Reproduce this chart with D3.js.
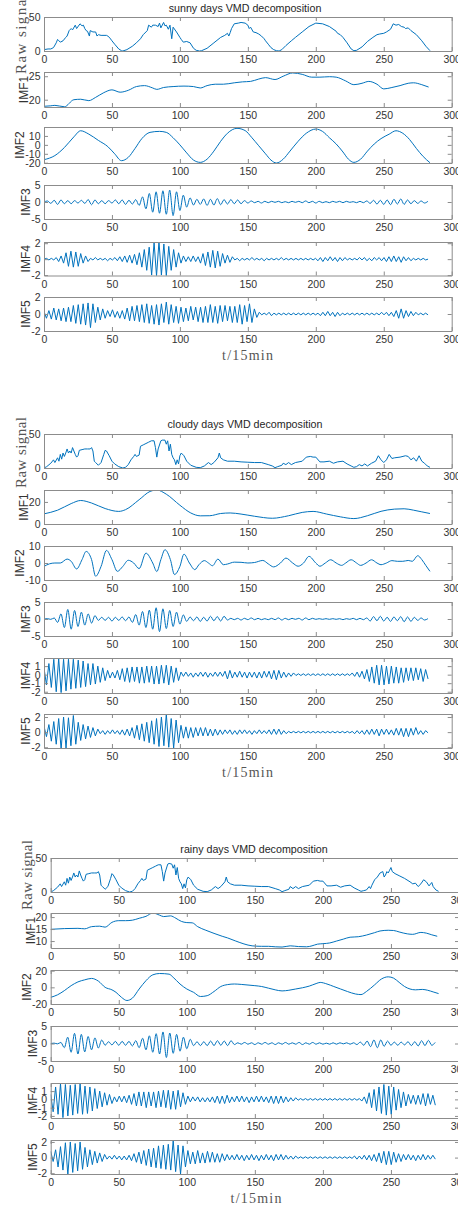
<!DOCTYPE html>
<html>
<head>
<meta charset="utf-8">
<script src="https://cdn.jsdelivr.net/npm/d3@7/dist/d3.min.js"></script>
<style>
body { margin: 0; background: #fff; }
svg { display: block; }
</style>
</head>
<body>
<svg id="chart" width="458" height="1211"></svg>
<script>
// ---- data ----
var xTicks = [0, 50, 100, 150, 200, 250, 300];
var panelLabels = ['Raw signal', 'IMF1', 'IMF2', 'IMF3', 'IMF4', 'IMF5'];
var xLabel = 't/15min';
var titles = ['sunny days VMD decomposition', 'cloudy days VMD decomposition', 'rainy days VMD decomposition'];

// sampling step of the oscillating modes (values listed peak / trough)
var imf3Step = 2.5;
var imf45Step = 1.8;

// sunny
var sunnyRaw = [[0,2],[3,3],[5,3],[7,5],[9,12],[10,17],[11,15],[12,13],[14,15],[16,20],[17,22],[18.5,30],[20,33],[21,31],[23,38],[24,33],[26.5,40],[28,37],[29,38],[30,33],[31,30],[32,29],[33.4,22],[34,30],[36,28],[38,28],[39,22],[40,24],[42,23],[46,23],[47,22],[48.5,19],[50,15],[52,10],[55,3],[57,0.5],[58,0],[61,2],[65,7],[68,12],[71,18],[73,24],[75,28],[76,30],[77,38],[79,35],[80,38],[82,38],[84,36],[85,41],[86,34],[88,42],[89,37],[90,38],[91.5,32],[92.7,38],[94,18],[95,35],[97.5,28],[100,20],[101,17],[102.5,13],[105,14],[107.5,12],[110,4],[112,1],[114.5,0],[116,0.5],[120,4],[125,12],[130,20],[133,23],[135,26],[136,22],[137,27],[138,33],[140,40],[143,41],[145,42],[148,41],[150,38],[151,33],[152,35],[154,28],[156,27],[158,25],[160,22],[162,18],[163,15],[165,10],[167,5],[169,2],[171,0.5],[173,0],[175,2],[178,8],[182,15],[185,20],[190,28],[195,36],[200,41],[205,40],[210,36],[215,29],[216,26],[218,24],[220,20],[223,12],[226,3],[228,0.5],[230,1],[234,6],[238,14],[242,20],[245,24],[247,25],[250,26],[252,28],[255,32],[257,40],[259,38],[261,39],[263,36],[265,35],[266,33],[268,34],[270,30],[274,24],[278,15],[281,7],[284,0.5]];
var sunnyImf1 = [[0,18.6],[5,18.7],[8,18.8],[15,18.5],[22,20],[27,20.1],[33,19.8],[38,20.5],[44,21.5],[50,22.1],[56,21.6],[62,22],[68,22.8],[74,23],[80,22.5],[83,22.2],[88,22.6],[95,22.8],[103,22.9],[110,22.8],[115,22.5],[120,23],[126,23.3],[132,23.3],[140,23.6],[146,23.8],[152,23.9],[158,24.4],[163,24.7],[170,24.3],[176,25],[183,25.7],[190,25.4],[197,24.8],[203,24.8],[210,24.9],[215,24.8],[222,24],[228,23.2],[234,23.5],[239,23.9],[245,23.3],[250,22.3],[256,22.6],[262,23],[268,23.5],[272,23.6],[278,23.2],[283,22.7]];
var sunnyImf2 = [[0,-16.6],[8,-12],[15,-3],[22,9],[27,15.8],[33,12],[40,5],[47,-2],[52,-10],[57,-17.7],[62,-14],[67,-4],[72,7],[78,14],[85,15.1],[90,14],[95,8],[100,0],[105,-9],[110,-17],[115,-19.6],[120,-16],[125,-7],[130,4],[135,13],[142,18.5],[148,16],[153,8],[158,-1],[163,-10],[167,-17],[171,-20.3],[176,-16],[181,-7],[187,4],[193,13],[200,17.7],[205,15],[210,8],[215,1],[220,-8],[224,-16],[228,-19.6],[233,-16],[238,-7],[243,1],[248,7],[254,12],[259,15.8],[264,13],[269,6],[274,-4],[279,-13],[284,-20]];
var sunnyImf3 = [0,0.3,-0.4,0.5,-0.7,0.6,-0.5,0.4,-0.5,0.4,-0.3,0.5,-0.4,0.7,-0.8,0.6,-0.5,0.4,-0.5,0.4,-0.3,0.6,-0.5,0.6,-0.7,0.5,-0.6,0.7,
  -1.0,1.5,-2.0,2.5,-3.0,3.0,-3.3,3.3,-3.6,3.5,-4.0,3.0,-2.5,2.0,-1.5,1.2,
  -0.9,0.8,-0.7,0.9,-1.0,0.8,-0.9,1.0,-0.8,0.7,-0.6,0.7,-0.5,0.6,-0.5,0.4,-0.3,
  0.3,-0.2,0.2,-0.3,0.2,-0.2,0.2,-0.1,0.2,-0.2,0.1,-0.2,0.2,-0.1,0.2,-0.2,0.3,-0.2,0.2,-0.3,0.2,-0.2,0.1,-0.2,0.2,-0.1,0.2,-0.2,0.2,-0.1,0.1,-0.2,0.2,-0.2,
  0.3,-0.4,0.5,-0.6,0.5,-0.7,0.6,-0.8,0.8,-0.6,0.9,-0.7,0.6,-0.5,0.4,-0.4,0.3,-0.3,0.2];
var sunnyImf4 = [0,0.1,-0.1,0.1,-0.1,0.2,-0.3,0.4,-0.5,0.8,-0.9,1.0,-1.0,0.9,-0.9,0.7,-0.5,0.4,-0.3,
  0.1,-0.1,0.2,-0.1,0.1,-0.1,0.1,-0.2,0.1,-0.1,0.2,-0.2,0.3,-0.3,0.4,-0.4,0.5,-0.5,0.6,-0.7,
  0.8,-1.0,1.2,-1.4,1.5,-2.0,2.1,-2.1,2.2,-2.0,1.9,-2.1,1.6,-1.4,1.2,-1.0,0.8,
  -0.5,0.4,-0.3,0.3,-0.3,0.4,-0.3,0.3,-0.5,0.7,-0.8,0.9,-1.0,1.1,-1.1,1.0,-0.9,0.7,-0.5,0.5,-0.4,0.3,
  -0.1,0.1,-0.2,0.1,-0.1,0.1,-0.1,0.2,-0.1,0.1,-0.1,0.1,-0.2,0.1,-0.1,0.1,-0.1,0.1,-0.1,0.2,-0.1,0.1,-0.1,0.1,-0.1,0.1,-0.1,0.1,-0.1,0.1,-0.1,0.1,-0.1,0.1,
  -0.2,0.2,-0.3,0.2,-0.2,0.3,-0.2,0.2,-0.3,0.2,-0.2,0.2,-0.1,0.1,-0.1,0.1,-0.1,0.2,-0.1,0.2,-0.2,0.1,-0.2,0.2,-0.1,0.2,-0.2,
  0.2,-0.3,0.3,-0.3,0.4,-0.3,0.3,-0.4,0.3,-0.2,0.2,-0.2,0.1,-0.1,0.1,-0.1,0.1,-0.1,0];
var sunnyImf5 = [0.3,-0.5,0.4,-0.6,0.7,-0.7,0.6,-0.8,0.7,-0.9,0.8,-0.9,1.0,-1.1,1.1,-1.2,1.2,-1.3,1.3,-1.6,1.2,
  -1.0,0.8,-0.7,0.6,-0.5,0.4,-0.3,0.5,-0.4,0.3,-0.5,0.4,-0.6,
  0.7,-0.8,0.9,-0.8,1.0,-0.9,1.1,-1.0,1.2,-1.1,1.0,-1.2,1.1,-1.3,1.2,-1.0,1.4,-1.2,1.1,-1.0,0.9,-1.1,
  0.8,-0.9,0.7,-0.8,0.9,-0.7,0.8,-0.9,0.8,-1.0,0.9,-1.0,1.1,-1.0,0.9,-1.1,1.0,-0.9,1.0,-0.8,0.9,-1.0,
  0.9,-1.0,1.1,-1.2,1.0,-0.9,1.2,-1.0,0.6,-0.4,
  0.2,-0.1,0.1,-0.1,0.2,-0.2,0.1,-0.1,0.1,-0.1,0.1,-0.1,0.1,-0.1,0.1,-0.1,0.1,-0.1,0.1,-0.1,0.1,-0.1,0.1,-0.1,
  0.1,-0.2,0.2,-0.2,0.3,-0.2,0.2,-0.3,0.2,-0.2,0.1,
  -0.1,0.1,-0.1,0.1,-0.1,0.1,-0.1,0.1,-0.1,0.1,-0.1,0.1,-0.1,0.1,-0.1,0.2,-0.1,0.2,-0.2,0.2,
  -0.3,0.4,-0.5,0.6,-0.5,0.4,-0.3,0.3,-0.2,0.2,-0.1,0.1,-0.1,0.1,-0.1];

// cloudy
var cloudyRaw = [[0,0],[2,2],[5,7],[7,12],[8,8],[10,15],[11,10],[12,20],[13,13],[14,22],[15,17],[16,22],[17,28],[18,22],[19,25],[20,22],[21,30],[22,25],[23,20],[24,16],[25,18],[26,26],[28,27],[30,28],[32,28],[34,28],[35,30],[36,25],[37,10],[38,8],[40,4],[42,8],[44,20],[45,26],[46,25],[48,18],[50,10],[52,6],[55,2],[58,0],[60,1],[62,5],[64,12],[66,17],[67,20],[68,17],[70,19],[71,32],[73,34],[75,36],[77,38],[79,40],[81,40],[82,30],[83,16],[84,28],[86,40],[87,41],[89,41],[90,35],[91,40],[92,25],[93,35],[94,20],[95,15],[96,12],[97,5],[98,12],[99,6],[100,18],[101,22],[103,18],[105,10],[108,4],[112,1],[115,0.5],[118,3],[121,8],[123,5],[125,8],[128,15],[129,22],[130,15],[132,12],[135,10],[140,10],[145,9],[150,8.5],[155,8],[160,8],[165,5],[168,3],[170,0.5],[172,2],[175,4],[176,7],[178,5],[180,8],[182,5],[185,8],[190,10],[193,16],[196,17],[198,16],[200,16],[203,9],[206,9],[210,10],[213,7],[216,9],[220,10],[223,6],[226,3],[228,1],[230,2],[232,5],[234,3],[236,6],[238,3],[241,7],[244,10],[246,18],[248,12],[250,8],[252,12],[254,20],[256,14],[258,15],[262,16],[266,18],[268,17],[270,12],[272,15],[274,10],[276,18],[278,10],[280,7],[282,3],[284,1]];
var cloudyImf1 = [[0,9.2],[10,12.5],[20,18.5],[27,21.3],[35,19],[45,14],[55,11.4],[60,13],[70,22],[78,29.5],[83,30.8],[90,27],[100,17],[108,10],[115,7.4],[122,7.5],[130,9.5],[137,10],[145,9],[155,7],[168,5.2],[180,7.5],[190,10.5],[198,11.4],[208,9],[218,6.5],[228,4.9],[238,7.5],[248,11.5],[258,13.5],[265,13.8],[272,12.5],[278,11],[284,9.5]];
var cloudyImf2 = [[0,-2],[4,-0.5],[8,0],[12,0],[17,2.3],[20,1],[24,-3.5],[28,2],[31,6.8],[35,2],[38,-7.8],[42,-2],[46,7.4],[50,2],[54,-4.9],[58,-2],[62,1.6],[66,0],[70,-3.3],[75,5.8],[80,0],[83,-5],[86,2],[89,7.8],[93,2],[96,-6.8],[100,-2],[103,5.2],[107,0],[111,-3.9],[114,-1],[118,1.4],[121,0],[124,-1.6],[128,2.3],[132,-1],[135,-0.6],[140,0.5],[145,0.4],[150,0],[155,0.3],[161,1.5],[165,-0.5],[169,-2.3],[174,0],[178,2.9],[183,0],[187,-1.9],[191,0],[195,3.9],[200,0],[203,-1.9],[207,0],[211,1.9],[215,0],[219,-1.4],[222,0],[226,1.9],[230,0],[233,-1.4],[237,0],[241,1.9],[245,0],[248,-1],[252,0],[256,1.4],[260,1],[264,1],[268,1.5],[271,1],[275,4.3],[278,2],[281,-1.5],[284,-4.9]];
var cloudyImf3 = [0,0.1,-0.1,0.3,
  -1.0,1.5,-2.5,2.8,-3.0,2.5,-2.2,2.0,-1.8,1.5,-1.2,1.0,
  -0.4,0.5,-0.4,0.5,-0.6,0.5,-0.4,0.6,-0.5,0.6,
  -1.0,1.3,-1.8,2.2,-2.5,2.6,-3.0,3.3,-3.7,3.0,-2.8,2.5,-2.2,2.0,-1.5,1.2,
  -0.7,0.6,-0.5,0.6,-0.7,0.5,-0.6,0.8,-0.5,0.7,-0.6,0.8,-0.3,
  0.2,-0.2,0.2,-0.3,0.2,-0.2,0.3,-0.2,0.2,-0.2,0.1,-0.2,0.2,-0.2,0.3,-0.3,0.2,-0.2,0.2,-0.1,0.2,-0.3,0.3,-0.2,0.2,-0.1,0.1,-0.1,0.1,-0.1,0.1,-0.1,0.1,-0.2,0.1,-0.1,0.2,-0.2,0.2,-0.2,0.3,
  -0.6,0.7,-0.5,0.8,-0.6,0.5,-0.7,0.6,-0.5,0.7,-0.8,0.6,-0.7,0.5,
  -0.4,0.3,-0.3,0.1];
var cloudyImf4 = [0.8,-1.2,1.3,-1.5,1.8,-2.0,1.9,-2.1,1.8,
  -1.9,1.8,-1.7,1.8,-1.6,1.7,-1.5,1.6,-1.4,1.3,-1.2,1.3,-1.1,1.0,-0.9,0.8,-0.7,
  0.5,-0.4,0.3,-0.4,0.5,
  -0.6,0.7,-0.8,0.8,-0.9,0.9,-0.8,0.9,-1.0,0.9,-1.0,1.0,-0.9,1.0,-1.1,1.0,-1.1,1.1,-1.0,1.1,-1.2,1.0,-0.9,0.8,-0.7,
  0.3,-0.2,0.3,-0.2,0.2,-0.3,0.2,-0.2,0.3,-0.2,0.3,-0.3,0.2,-0.2,0.3,-0.2,0.3,-0.2,
  0.4,-0.5,0.5,-0.4,0.3,-0.3,0.4,-0.3,0.3,-0.4,0.3,-0.3,0.3,-0.4,0.3,-0.4,0.4,-0.3,0.4,-0.5,0.5,-0.6,0.5,-0.4,0.3,-0.3,0.2,-0.2,0.2,
  -0.1,0.1,-0.1,0.1,-0.1,0.1,-0.1,0.1,-0.1,0.1,-0.1,0.1,-0.1,0.1,-0.1,0.1,-0.1,0.1,-0.1,0.1,-0.1,0.1,-0.1,0.2,-0.2,0.3,-0.3,0.4,-0.5,0.6,
  -0.8,0.9,-1.0,1.1,-1.2,1.1,-1.2,1.0,-1.1,1.0,-1.0,0.9,-1.0,0.8,-0.9,0.8,-0.7,0.8,
  -0.7,0.8,-0.6,0.7,-0.8,0.6,-0.5];
var cloudyImf5 = [0.8,-0.6,1.0,-1.2,
  1.4,-1.6,1.8,-2.3,2.0,-2.1,1.9,-1.8,2.2,-1.6,
  1.3,-1.1,1.0,-0.9,0.8,-0.7,0.6,-0.5,0.4,
  -0.2,0.2,-0.3,0.2,-0.2,0.3,-0.2,0.2,-0.3,0.3,-0.4,0.4,-0.5,
  0.6,-0.8,0.9,-1.0,1.1,-1.2,1.3,-1.4,1.5,-1.6,1.8,-1.9,2.0,-1.8,2.4,-2.0,1.8,-2.1,1.6,-1.4,
  0.9,-0.8,0.7,-0.8,0.6,-0.7,0.6,-0.5,0.6,-0.5,0.6,-0.5,0.4,-0.5,0.4,-0.4,0.3,
  -0.3,0.3,-0.2,0.3,-0.3,0.2,-0.3,0.3,-0.2,0.3,-0.2,0.2,-0.3,0.2,-0.2,0.3,-0.2,0.2,-0.2,0.3,-0.3,0.4,-0.3,0.4,-0.3,0.2,-0.2,0.1,-0.1,
  0.1,-0.1,0.1,-0.1,0.1,-0.1,0.1,-0.1,0.1,-0.1,0.1,-0.1,0.1,-0.1,0.1,-0.1,0.1,-0.1,0.1,-0.1,0.1,-0.1,0.1,-0.1,0.1,-0.2,0.2,-0.2,0.2,-0.3,0.3,
  -0.3,0.4,-0.3,0.4,-0.5,0.4,-0.3,0.4,-0.3,0.3,-0.4,0.5,-0.4,0.5,-0.6,0.5,-0.6,0.5,
  -0.4,0.6,-0.3,0.2,-0.3,0.2,-0.1];

// rainy
var rainyRaw = [[0,0],[2,2],[5,7],[7,12],[8,8],[10,15],[11,10],[12,20],[13,13],[14,22],[15,17],[16,22],[17,28],[18,22],[19,25],[20,22],[21,31],[22,25],[23,20],[24,16],[25,18],[26,26],[28,27],[30,28],[32,28],[34,28],[35,30],[36,25],[37,10],[38,8],[40,4],[42,8],[44,20],[45,27],[46,25],[48,18],[50,10],[52,6],[55,2],[58,0],[60,1],[62,5],[64,12],[66,17],[67,20],[68,17],[70,19],[71,32],[73,34],[75,36],[77,38],[79,40],[81,40],[82,30],[83,16],[84,28],[86,41],[87,42],[89,41],[90,35],[91,40],[92,25],[93,36],[94,20],[95,15],[96,12],[97,5],[98,12],[99,6],[100,18],[101,22],[103,18],[105,10],[108,4],[112,1],[115,0.5],[118,3],[121,8],[123,5],[125,8],[128,15],[129,22],[130,15],[132,12],[135,10],[140,10],[145,9],[150,8.5],[155,8],[160,8],[165,5],[168,3],[170,0.5],[172,2],[175,4],[176,8],[178,5],[180,8],[182,5],[185,8],[190,10],[193,16],[196,17],[198,16],[200,16],[203,9],[206,9],[210,10],[213,7],[216,9],[220,10],[223,6],[226,3],[228,1],[230,2],[232,3],[234,8],[235,5],[236,10],[238,18],[240,22],[242,28],[244,30],[245,22],[246,25],[247,30],[248,28],[249,32],[250,36],[251,30],[253,27],[256,24],[260,20],[264,15],[266,12],[268,13],[270,8],[272,12],[274,18],[276,15],[278,9],[280,14],[281,8],[283,3],[285,1]];
var rainyImf1 = [[0,14.9],[10,15.2],[20,15.3],[25,15.1],[30,16],[36,16.2],[40,15.8],[45,17.8],[50,18.5],[55,18.5],[60,18.7],[65,19.5],[70,20.3],[75,21.7],[80,20.8],[83,20.2],[88,20.5],[92,19.5],[96,18.2],[100,17.7],[104,17.6],[108,16],[114,14.5],[120,13.2],[126,12],[130,11.3],[136,10],[142,8.8],[148,8],[155,7.8],[160,7.8],[165,7.6],[170,7.5],[176,8],[182,7.7],[188,7.6],[192,8],[196,8.7],[200,8.9],[205,9.2],[210,10],[215,10.8],[220,11.6],[226,11.8],[232,12.5],[238,13.5],[242,14.2],[248,14.5],[252,14.4],[256,13.8],[262,13],[266,12.8],[272,13.6],[276,13.3],[280,12.6],[284,12]];
var rainyImf2 = [[0,-12],[5,-9],[10,-4],[15,2],[20,6.5],[25,9],[30,10.7],[35,7.5],[40,0],[45,-3],[48,-6],[52,-12],[56,-15.8],[60,-13],[65,-2],[70,8],[75,15],[80,16.6],[87,15.8],[90,12],[95,4],[100,-2],[105,-6],[110,-11],[115,-10],[120,-5],[125,1],[130,3.3],[135,4],[140,3.5],[150,2],[155,1],[160,-1],[165,-3],[170,-4.3],[175,-3.5],[180,-2],[185,-0.5],[190,1.5],[195,4.5],[198,5.9],[203,4],[208,1],[213,-2],[218,-5],[224,-8],[228,-8.7],[232,-5],[238,3],[243,10],[248,12.6],[252,11],[256,6],[260,1],[264,-2],[268,-3],[273,-2.5],[277,-3.5],[281,-5.5],[285,-7.5]];
var rainyImf3 = [0,0.1,-0.1,0.3,
  -1.2,1.8,-2.5,2.9,-3.0,2.6,-2.4,2.0,-1.8,1.6,-1.3,1.0,
  -0.5,0.5,-0.4,0.6,-0.5,0.6,-0.5,0.6,-0.7,0.8,
  -1.2,1.5,-1.8,2.2,-2.5,2.8,-3.0,3.3,-4.0,3.0,-2.8,2.6,-2.2,1.8,-1.5,1.2,
  -0.6,0.5,-0.6,0.5,-0.6,0.7,-0.6,0.8,-0.5,0.7,-0.6,0.8,-0.3,
  0.2,-0.2,0.3,-0.2,0.2,-0.3,0.2,-0.2,0.3,-0.2,0.2,-0.3,0.2,-0.2,0.3,-0.2,0.2,-0.2,0.3,-0.3,0.2,-0.2,0.3,-0.2,0.2,-0.2,0.1,-0.2,0.2,-0.2,0.2,-0.1,0.2,-0.2,0.2,-0.3,0.4,
  -0.5,0.7,-0.9,1.0,-1.2,1.0,-0.8,0.7,-0.5,0.4,-0.5,0.4,
  -0.4,0.5,-0.6,0.5,-0.7,0.8,-0.6,0.9,-0.5,0.3];
var rainyImf4 = [0.6,-1.5,1.5,-1.8,
  1.9,-2.2,1.8,-2.0,1.7,-1.9,1.8,-1.7,1.9,-1.8,1.6,-1.7,1.5,
  -1.4,1.3,-1.1,1.0,-0.9,0.8,-0.7,0.6,-0.5,
  0.3,-0.3,0.4,-0.3,0.4,-0.4,0.5,-0.6,
  0.7,-0.8,0.9,-0.8,0.9,-1.0,0.9,-0.8,0.9,-1.0,1.0,-0.9,1.1,-1.0,1.1,-1.2,1.0,-1.2,1.1,-0.9,0.8,-0.6,
  0.4,-0.3,0.3,-0.2,0.3,-0.3,0.2,-0.3,0.2,-0.3,0.3,
  -0.4,0.4,-0.5,0.4,-0.5,0.5,-0.4,0.3,-0.3,0.4,-0.3,0.4,-0.3,0.3,-0.4,0.3,-0.3,0.4,-0.3,0.4,-0.3,0.3,-0.4,0.4,-0.5,0.4,-0.5,0.4,-0.4,0.3,-0.3,0.2,-0.2,0.2,
  -0.1,0.1,-0.1,0.1,-0.1,0.1,-0.1,0.1,-0.1,0.1,-0.1,0.1,-0.1,0.1,-0.1,0.1,-0.1,0.1,-0.1,0.1,-0.1,0.1,-0.1,0.1,-0.1,0.1,-0.2,0.3,-0.5,
  0.8,-1.0,1.2,-1.4,1.5,-1.7,1.8,-1.9,1.6,-1.8,1.5,-1.3,1.2,-1.0,0.9,-0.8,
  0.6,-0.5,0.5,-0.6,0.5,-0.6,0.7,-0.8,0.7,-0.6,0.5,-0.7];
var rainyImf5 = [0.8,-0.5,1.0,-1.2,
  1.4,-1.6,1.9,-2.2,2.0,-1.9,1.8,-1.7,2.0,-1.5,
  1.3,-1.2,1.0,-0.9,0.8,-0.7,0.6,-0.5,0.4,
  -0.2,0.2,-0.2,0.3,-0.2,0.2,-0.3,0.2,-0.3,0.3,-0.4,0.5,-0.6,
  0.7,-0.8,0.9,-1.0,1.1,-1.2,1.2,-1.3,1.5,-1.4,1.6,-1.5,1.7,-1.6,2.2,-1.8,1.6,-2.1,1.5,-1.2,
  0.9,-0.8,0.7,-0.8,0.9,-0.7,0.6,-0.7,0.8,-0.6,0.7,-0.6,0.5,-0.6,0.5,-0.4,0.4,
  -0.3,0.3,-0.3,0.4,-0.3,0.3,-0.4,0.3,-0.3,0.4,-0.3,0.3,-0.4,0.3,-0.3,0.4,-0.3,0.3,-0.4,0.4,-0.3,0.4,-0.3,0.3,-0.2,0.2,-0.2,0.2,-0.1,
  0.1,-0.1,0.1,-0.1,0.1,-0.1,0.1,-0.1,0.1,-0.1,0.1,-0.1,0.1,-0.1,0.1,-0.1,0.1,-0.1,0.1,-0.1,0.1,-0.1,0.2,-0.2,0.2,-0.2,0.3,-0.3,0.3,-0.4,0.4,
  -0.5,0.6,-0.7,0.8,-0.9,0.8,-0.9,0.7,-0.6,0.5,-0.5,0.4,-0.3,0.4,-0.3,0.3,-0.4,0.3,
  -0.3,0.4,-0.3,0.3,-0.2,0.3,-0.2];

// axis limits and y tick labels per panel
var sunnyYLim = [[0,50],[18.45,25.9],[-20.3,20],[-5,5],[-2.05,2.15],[-2,2]];
var cloudyYLim = [[0,50],[0,30.8],[-10,10],[-5,5],[-2.15,1.95],[-2.1,2.4]];
var rainyYLim = [[0,50],[7.1,21.7],[-20,20.8],[-5,5],[-2.25,1.98],[-2.1,2.25]];
var sunnyYTicks = [[0,50],[20,25],[-20,-10,0,10],[-5,0,5],[-2,0,2],[-2,0,2]];
var cloudyYTicks = [[0,50],[0,20],[-10,0,10],[-5,0,5],[-2,-1,0,1],[-2,0,2]];
var rainyYTicks = [[0,50],[10,15,20],[-20,0,20],[-5,0,5],[-2,-1,0,1],[-2,0,2]];

// ---- layout ----
var layouts = [
  { left: 44, right: 451.7, tops: [17,72,127,185,242,297], bottoms: [51,107,163,219,275.5,331],
    titleX: 245, titleY: 11.5, rawX: 26, rawY: 74, rawLen: 80, xlabX: 247.5, xlabY: 360 },
  { left: 44, right: 451.7, tops: [434,490,546,602,658,714], bottoms: [468,524,580,636,693,748],
    titleX: 245, titleY: 428, rawX: 26, rawY: 488, rawLen: 71, xlabX: 247.5, xlabY: 777 },
  { left: 50.7, right: 459, tops: [858,913,970,1026,1083,1140], bottoms: [892,948,1004,1061,1118,1174],
    titleX: 254, titleY: 852.5, rawX: 32, rawY: 910, rawLen: 70, xlabX: 256, xlabY: 1203 }
];

var groupSeries = [
  [sunnyRaw, sunnyImf1, sunnyImf2, sunnyImf3, sunnyImf4, sunnyImf5],
  [cloudyRaw, cloudyImf1, cloudyImf2, cloudyImf3, cloudyImf4, cloudyImf5],
  [rainyRaw, rainyImf1, rainyImf2, rainyImf3, rainyImf4, rainyImf5]
];
var groupYLim = [sunnyYLim, cloudyYLim, rainyYLim];
var groupYTicks = [sunnyYTicks, cloudyYTicks, rainyYTicks];

var lineColor = '#0072BD';
var axisColor = '#8c8c8c';
var textColor = '#333';
var sans = 'Arial, "Liberation Sans", sans-serif';
var serif = '"Liberation Serif", "DejaVu Serif", serif';

var svg = d3.select('#chart');
var fmt = function(d) { return String(d); };

function toPoints(arr, k) {
    if (k < 3) return arr;
    var step = k === 3 ? imf3Step : imf45Step;
    return arr.map(function(v, i) { return [i * step, v]; });
}

groupSeries.forEach(function(series, gi) {
    var L = layouts[gi];
    var x = d3.scaleLinear().domain([0, 300]).range([L.left, L.right]);
    var grp = svg.append('g');

    grp.append('text')
        .attr('x', L.titleX).attr('y', L.titleY)
        .attr('text-anchor', 'middle')
        .attr('font-family', sans).attr('font-size', 10.7)
        .attr('fill', '#262626')
        .text(titles[gi]);

    series.forEach(function(arr, k) {
        var top = L.tops[k], bottom = L.bottoms[k];
        var y = d3.scaleLinear().domain(groupYLim[gi][k]).range([bottom, top]);
        var g = grp.append('g');
        var clipId = 'clip-' + gi + '-' + k;

        g.append('clipPath').attr('id', clipId)
            .append('rect')
            .attr('x', L.left).attr('y', top)
            .attr('width', L.right - L.left).attr('height', bottom - top);

        var curve = (k === 1 || k === 2 || k === 3) ? d3.curveMonotoneX : d3.curveLinear;
        var line = d3.line()
            .x(function(d) { return x(d[0]); })
            .y(function(d) { return y(d[1]); })
            .curve(curve);

        g.append('path')
            .datum(toPoints(arr, k))
            .attr('clip-path', 'url(#' + clipId + ')')
            .attr('fill', 'none')
            .attr('stroke', lineColor)
            .attr('stroke-width', 1)
            .attr('stroke-linejoin', 'round')
            .attr('d', line);

        // box with inward ticks on all four sides
        g.append('g')
            .attr('transform', 'translate(0,' + bottom + ')')
            .call(d3.axisBottom(x).tickValues(xTicks).tickFormat(fmt)
                .tickSizeInner(-4).tickSizeOuter(0).tickPadding(5));
        g.append('g')
            .attr('transform', 'translate(0,' + top + ')')
            .call(d3.axisTop(x).tickValues(xTicks).tickFormat('')
                .tickSizeInner(-4).tickSizeOuter(0));
        var leftAxis = g.append('g')
            .attr('transform', 'translate(' + L.left + ',0)')
            .call(d3.axisLeft(y).tickValues(groupYTicks[gi][k]).tickFormat(fmt)
                .tickSizeInner(-4).tickSizeOuter(0).tickPadding(3.5));
        g.append('g')
            .attr('transform', 'translate(' + L.right + ',0)')
            .call(d3.axisRight(y).tickValues(groupYTicks[gi][k]).tickFormat('')
                .tickSizeInner(-4).tickSizeOuter(0));

        g.selectAll('.domain, .tick line').attr('stroke', axisColor);
        g.selectAll('.tick text')
            .attr('font-family', sans).attr('font-size', 10.5)
            .attr('fill', textColor);
        g.selectAll('g').attr('font-family', null).attr('font-size', null);

        if (k === 0) {
            grp.append('text')
                .attr('transform', 'translate(' + L.rawX + ',' + L.rawY + ') rotate(-90)')
                .attr('text-anchor', 'start')
                .attr('font-family', serif).attr('font-size', 15)
                .attr('textLength', L.rawLen).attr('lengthAdjust', 'spacing')
                .attr('fill', '#555')
                .text(panelLabels[0]);
        } else {
            var maxW = 0;
            leftAxis.selectAll('.tick text').each(function() {
                maxW = Math.max(maxW, this.getComputedTextLength());
            });
            var lx = L.left - 3.5 - maxW - 1;
            grp.append('text')
                .attr('transform', 'translate(' + lx + ',' + ((top + bottom) / 2) + ') rotate(-90)')
                .attr('text-anchor', 'middle')
                .attr('font-family', sans).attr('font-size', 12)
                .attr('fill', textColor)
                .text(panelLabels[k]);
        }
    });

    grp.append('text')
        .attr('x', L.xlabX).attr('y', L.xlabY)
        .attr('text-anchor', 'middle')
        .attr('font-family', serif).attr('font-size', 14)
        .attr('textLength', 51).attr('lengthAdjust', 'spacing')
        .attr('fill', '#555')
        .text(xLabel);
});
</script>
</body>
</html>
